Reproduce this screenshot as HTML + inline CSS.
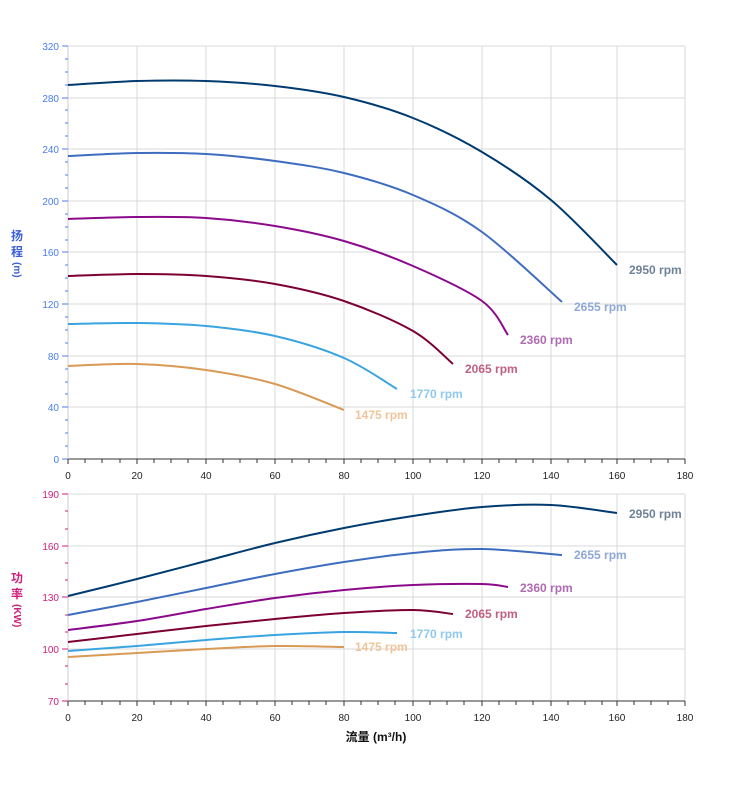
<!DOCTYPE html>
<html><head><meta charset="utf-8"><style>
body{margin:0;background:#fff;}
svg{display:block;font-family:"Liberation Sans","Noto Sans CJK SC",sans-serif;}
</style></head><body>
<svg width="752" height="797" viewBox="0 0 752 797">
<g stroke="#d8d8d8" stroke-width="1" fill="none">
<path d="M68 46H685M68 98H685M68 149H685M68 201H685M68 252H685M68 304H685M68 356H685M68 407H685"/>
<path d="M137 46V459M206 46V459M275 46V459M344 46V459M413 46V459M482 46V459M551 46V459M617 46V459M685 46V459"/>
<path d="M68 494H685M68 546H685M68 597H685M68 649H685"/>
<path d="M137 494V701M206 494V701M275 494V701M344 494V701M413 494V701M482 494V701M551 494V701M617 494V701M685 494V701"/>
</g>
<g stroke="#333" stroke-width="1">
<path d="M68 459H685M68 701H685"/>
</g>
<line x1="68" y1="46" x2="68" y2="459" stroke="#ccc"/>
<line x1="68" y1="494" x2="68" y2="701" stroke="#ccc"/>
<g stroke="#4a7cf0">
<path d="M62 46H68M62 98H68M62 149H68M62 201H68M62 252H68M62 304H68M62 356H68M62 407H68M62 459H68"/>
<path d="M65 59H68M65 72H68M65 85H68M65 110H68M65 123H68M65 136H68M65 162H68M65 175H68M65 188H68M65 214H68M65 227H68M65 240H68M65 265H68M65 278H68M65 291H68M65 317H68M65 330H68M65 343H68M65 369H68M65 382H68M65 394H68M65 420H68M65 433H68M65 446H68"/>
</g>
<g stroke="#d0207a">
<path d="M62 494H68M62 546H68M62 597H68M62 649H68M62 701H68"/>
<path d="M65 511H68M65 529H68M65 563H68M65 580H68M65 615H68M65 632H68M65 666H68M65 684H68"/>
</g>
<g stroke="#333">
<path id="xt" d="M68 459v5M85 459v4M102 459v4M120 459v4M137 459v5M154 459v4M171 459v4M188 459v4M206 459v5M223 459v4M240 459v4M257 459v4M275 459v5M292 459v4M309 459v4M326 459v4M344 459v5M361 459v4M378 459v4M395 459v4M413 459v5M430 459v4M447 459v4M464 459v4M482 459v5M499 459v4M516 459v4M533 459v4M551 459v5M568 459v4M585 459v4M602 459v4M617 459v5M634 459v4M651 459v4M668 459v4M685 459v5"/>
<use href="#xt" y="242"/>
</g>
<g font-size="10" fill="#4a7cf0" text-anchor="end">
<text x="59" y="50">320</text><text x="59" y="102">280</text><text x="59" y="153">240</text><text x="59" y="205">200</text><text x="59" y="256">160</text><text x="59" y="308">120</text><text x="59" y="360">80</text><text x="59" y="411">40</text><text x="59" y="463">0</text>
</g>
<g font-size="10" fill="#d0207a" text-anchor="end">
<text x="59" y="498">190</text><text x="59" y="550">160</text><text x="59" y="601">130</text><text x="59" y="653">100</text><text x="59" y="705">70</text>
</g>
<g font-size="10" fill="#222" text-anchor="middle">
<text x="68" y="479">0</text><text x="137" y="479">20</text><text x="206" y="479">40</text><text x="275" y="479">60</text><text x="344" y="479">80</text><text x="413" y="479">100</text><text x="482" y="479">120</text><text x="551" y="479">140</text><text x="617" y="479">160</text><text x="685" y="479">180</text>
<text x="68" y="721">0</text><text x="137" y="721">20</text><text x="206" y="721">40</text><text x="275" y="721">60</text><text x="344" y="721">80</text><text x="413" y="721">100</text><text x="482" y="721">120</text><text x="551" y="721">140</text><text x="617" y="721">160</text><text x="685" y="721">180</text>
</g>
<g font-size="12" font-weight="bold" fill="#3a5fd8">
<text x="11" y="240">扬</text><text x="11" y="256">程</text>
<text font-size="10" transform="translate(14,262) rotate(90)">(m)</text>
</g>
<g font-size="12" font-weight="bold" fill="#d0207a">
<text x="11" y="582">功</text><text x="11" y="598">率</text>
<text font-size="10" transform="translate(14,604) rotate(90)">(KW)</text>
</g>
<text x="376" y="741" font-size="12" font-weight="bold" fill="#111" text-anchor="middle">流量 (m³/h)</text>
<g fill="none" stroke-width="2" stroke-linejoin="round">
<path class="c" stroke="#003b6f" d="M68 85L137 81L206 81L275 86L344 97L413 118L482 152L551 200L617 265"/>
<path class="c" stroke="#3e6dbf" d="M68 156L137 153L206 154L275 161L344 173L413 195L482 232L562 302"/>
<path class="c" stroke="#8b0a8b" d="M68 219L137 217L206 218L275 226L344 241L413 266L482 301L508 335"/>
<path class="c" stroke="#7c0034" d="M68 276L137 274L206 276L275 284L344 301L413 331L453 364"/>
<path class="c" stroke="#3aa4e0" d="M68 324L137 323L206 326L275 336L344 358L397 389"/>
<path class="c" stroke="#d89a55" d="M68 366L137 364L206 370L275 384L344 410"/>
<path class="c" stroke="#003b6f" d="M68 596L137 579L206 561L275 543L344 528L413 516L482 507L551 505L617 513"/>
<path class="c" stroke="#3e6dbf" d="M68 615L137 602L206 588L275 574L344 562L413 553L482 549L562 555"/>
<path class="c" stroke="#8b0a8b" d="M68 630L137 621L206 609L275 598L344 590L413 585L482 584L508 587"/>
<path class="c" stroke="#7c0034" d="M68 642L137 634L206 626L275 619L344 613L413 610L453 614"/>
<path class="c" stroke="#3aa4e0" d="M68 651L137 646L206 640L275 635L344 632L397 633"/>
<path class="c" stroke="#d89a55" d="M68 657L137 653L206 649L275 646L344 647"/>
</g>
<g font-size="12" font-weight="bold">
<text x="629" y="274" fill="#6e8298">2950 rpm</text>
<text x="574" y="311" fill="#8fa8d8">2655 rpm</text>
<text x="520" y="344" fill="#b06ab0">2360 rpm</text>
<text x="465" y="373" fill="#c0607f">2065 rpm</text>
<text x="410" y="398" fill="#90c8ee">1770 rpm</text>
<text x="355" y="419" fill="#efc49a">1475 rpm</text>
<text x="629" y="518" fill="#6e8298">2950 rpm</text>
<text x="574" y="559" fill="#8fa8d8">2655 rpm</text>
<text x="520" y="592" fill="#b06ab0">2360 rpm</text>
<text x="465" y="618" fill="#c0607f">2065 rpm</text>
<text x="410" y="638" fill="#90c8ee">1770 rpm</text>
<text x="355" y="651" fill="#efc49a">1475 rpm</text>
</g>
</svg>
<script>
document.querySelectorAll('path.c').forEach(function(p){
  var n=p.getAttribute('d').match(/-?\d+(\.\d+)?/g).map(Number),pts=[];
  for(var i=0;i<n.length;i+=2)pts.push([n[i],n[i+1]]);
  var d='M'+pts[0][0]+' '+pts[0][1];
  for(var i=0;i<pts.length-1;i++){
    var p0=pts[i-1]||pts[i],p1=pts[i],p2=pts[i+1],p3=pts[i+2]||p2;
    var c1x=p1[0]+(p2[0]-p0[0])/6,c1y=p1[1]+(p2[1]-p0[1])/6;
    var c2x=p2[0]-(p3[0]-p1[0])/6,c2y=p2[1]-(p3[1]-p1[1])/6;
    d+='C'+c1x+' '+c1y+' '+c2x+' '+c2y+' '+p2[0]+' '+p2[1];
  }
  p.setAttribute('d',d);
});
</script>
</body></html>
